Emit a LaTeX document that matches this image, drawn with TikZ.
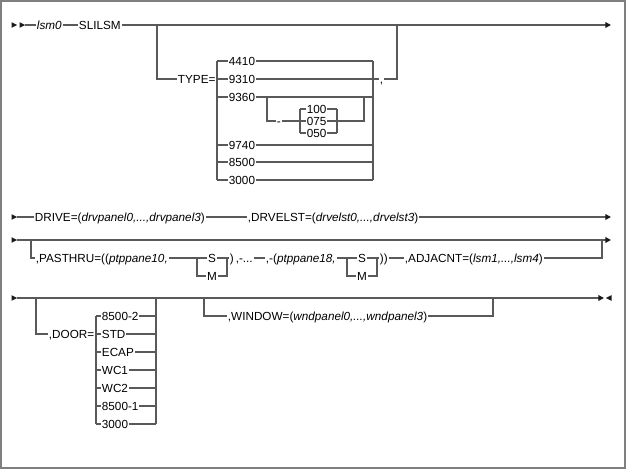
\documentclass[tikz,border=0pt]{standalone}
\usepackage{fontspec}
\setmainfont{Liberation Sans}
\usetikzlibrary{arrows.meta}
\definecolor{railc}{HTML}{595959}
\definecolor{framec}{HTML}{7F7F7F}
\definecolor{tipc}{HTML}{1A1A1A}
\newcommand\rtri[2]{\fill[tipc] (#1-5.5,#2-2.8) -- (#1,#2) -- (#1-5.5,#2+2.8) -- cycle;}
\begin{document}
\begin{tikzpicture}[x=0.75pt,y=-0.75pt,
  rl/.style={draw=railc, line width=1.05pt},
  tipend/.style={-{Triangle[length=4.2pt,width=4.2pt,color=tipc]}},
  lbl/.style={inner xsep=0.5pt, inner ysep=0pt, text height=6.3pt, text depth=0pt,
              anchor=west, font=\fontsize{8.8}{10}\selectfont},
  lblc/.style={lbl, anchor=center}]
\useasboundingbox (0,0) rectangle (626,470);
\draw[draw=framec, line width=1.5pt] (1,1) rectangle (624.5,468.5);

% ---------------- Row 1 ----------------
\rtri{17}{25}\rtri{25}{25}
\coordinate (r1s) at (25,25);
\coordinate (r1e) at (611,25);
\node[lbl] (lsm) at (36,25) {\textit{lsm0}};
\node[lbl] (sli) at (78,25) {SLILSM};
\draw[rl] (r1s) -- (lsm.west);
\draw[rl] (lsm.east) -- (sli.west);
\draw[rl,tipend] (sli.east) -- (r1e);
\coordinate (b1) at (157,25);
\node[lbl] (type) at (177,79) {TYPE=};
\draw[rl] (b1) |- (type.west);
\coordinate (tl) at (217,79);
\draw[rl] (type.east) -- (tl);
\coordinate (tlt) at (217,61); \coordinate (tlb) at (217,180);
\coordinate (trt) at (373,61); \coordinate (trb) at (373,180);
\draw[rl] (tlt) -- (tlb);
\draw[rl] (trt) -- (trb);
\foreach \v/\y [count=\i] in {4410/61,9310/79,9360/97,9740/145,8500/162,3000/180}{
  \node[lbl] (t\i) at (228,\y) {\v};
  \coordinate (tl\i) at (217,\y);
  \coordinate (tr\i) at (373,\y);
  \draw[rl] (tl\i) -- (t\i.west);
  \draw[rl] (t\i.east) -- (tr\i);
}
\node[lbl] (cm) at (379,79) {,};
\coordinate (rj) at (397,79);
\coordinate (rj1) at (397,25);
\draw[rl] (tr2) -- (cm.west);
\draw[rl] (cm.east) -- (rj) -- (rj1);
% bypass under 9360
\coordinate (bpl) at (267,97);
\coordinate (bpr) at (364,97);
\node[lbl] (dash) at (276,121) {-};
\draw[rl] (bpl) |- (dash.west);
\coordinate (il) at (300,121);
\coordinate (ir) at (337,121);
\draw[rl] (dash.east) -- (il);
\coordinate (ilt) at (300,109); \coordinate (ilb) at (300,133);
\coordinate (irt) at (337,109); \coordinate (irb) at (337,133);
\draw[rl] (ilt) -- (ilb);
\draw[rl] (irt) -- (irb);
\foreach \v/\y [count=\i] in {100/109,075/121,050/133}{
  \node[lbl] (n\i) at (306,\y) {\v};
  \coordinate (nl\i) at (300,\y);
  \coordinate (nr\i) at (337,\y);
  \draw[rl] (nl\i) -- (n\i.west);
  \draw[rl] (n\i.east) -- (nr\i);
}
\draw[rl] (ir) -| (bpr);

% ---------------- Row 2 ----------------
\rtri{17}{217}
\coordinate (r2s) at (17,217);
\coordinate (r2e) at (611,217);
\node[lbl] (drive) at (34,217) {DRIVE=(\textit{drvpanel0,...,drvpanel3})};
\node[lbl] (drvelst) at (247,217) {,DRVELST=(\textit{drvelst0,...,drvelst3})};
\draw[rl] (r2s) -- (drive.west);
\draw[rl] (drive.east) -- (drvelst.west);
\draw[rl,tipend] (drvelst.east) -- (r2e);

% ---------------- Row 3 ----------------
\rtri{17}{240}
\coordinate (r3s) at (17,240);
\coordinate (r3e) at (611,240);
\draw[rl,tipend] (r3s) -- (r3e);
\coordinate (b3) at (31,240);
\node[lbl] (pass) at (35,258) {,PASTHRU=((\textit{ptppane10,}};
\draw[rl] (b3) |- (pass.west);
\node[lblc] (s1) at (212,258) {S};
\node[lblc] (m1) at (212,276) {M};
\coordinate (k1l) at (197,258);
\coordinate (k1r) at (227,258);
\draw[rl] (pass.east) -- (k1l) -- (s1.west);
\draw[rl] (k1l) |- (m1.west);
\draw[rl] (m1.east) -| (k1r);
\node[lbl] (mid1) at (229,258) {)\,,-...};
\node[lbl] (mid2) at (265,258) {,-(\textit{ptppane18,}};
\draw[rl] (s1.east) -- (k1r) -- (mid1.west);
\draw[rl] (mid1.east) -- (mid2.west);
\node[lblc] (s2) at (362,258) {S};
\node[lblc] (m2) at (362,276) {M};
\coordinate (k2l) at (347,258);
\coordinate (k2r) at (377,258);
\draw[rl] (mid2.east) -- (k2l) -- (s2.west);
\draw[rl] (k2l) |- (m2.west);
\draw[rl] (m2.east) -| (k2r);
\node[lbl] (cl) at (379,258) {))};
\draw[rl] (s2.east) -- (k2r) -- (cl.west);
\node[lbl] (adj) at (404,258) {,ADJACNT=(\textit{lsm1,...,lsm4})};
\draw[rl] (cl.east) -- (adj.west);
\coordinate (aj) at (602,258);
\coordinate (aj1) at (602,240);
\draw[rl] (adj.east) -- (aj) -- (aj1);

% ---------------- Row 4 ----------------
\rtri{17}{298}
\coordinate (r4s) at (17,298);
\coordinate (r4e) at (604,298);
\draw[rl,tipend] (r4s) -- (r4e);
\fill[tipc] (606,298) -- (611.5,295.2) -- (611.5,300.8) -- cycle;
\coordinate (b4) at (36,298);
\node[lbl] (door) at (48,334) {,DOOR=};
\draw[rl] (b4) |- (door.west);
\coordinate (dl) at (96,334);
\draw[rl] (door.east) -- (dl);
\coordinate (dlt) at (96,316); \coordinate (dlb) at (96,424);
\coordinate (drt) at (156,298); \coordinate (drb) at (156,424);
\draw[rl] (dlt) -- (dlb);
\draw[rl] (drt) -- (drb);
\foreach \v/\y [count=\i] in {8500-2/316,STD/334,ECAP/352,WC1/370,WC2/388,8500-1/406,3000/424}{
  \node[lbl] (d\i) at (101,\y) {\v};
  \coordinate (dl\i) at (96,\y);
  \coordinate (dr\i) at (156,\y);
  \draw[rl] (dl\i) -- (d\i.west);
  \draw[rl] (d\i.east) -- (dr\i);
}
\coordinate (b5) at (204,298);
\node[lbl] (win) at (227,316) {,WINDOW=(\textit{wndpanel0,...,wndpanel3})};
\draw[rl] (b5) |- (win.west);
\coordinate (wj) at (493,316);
\coordinate (wj1) at (493,298);
\draw[rl] (win.east) -- (wj) -- (wj1);
\end{tikzpicture}
\end{document}
